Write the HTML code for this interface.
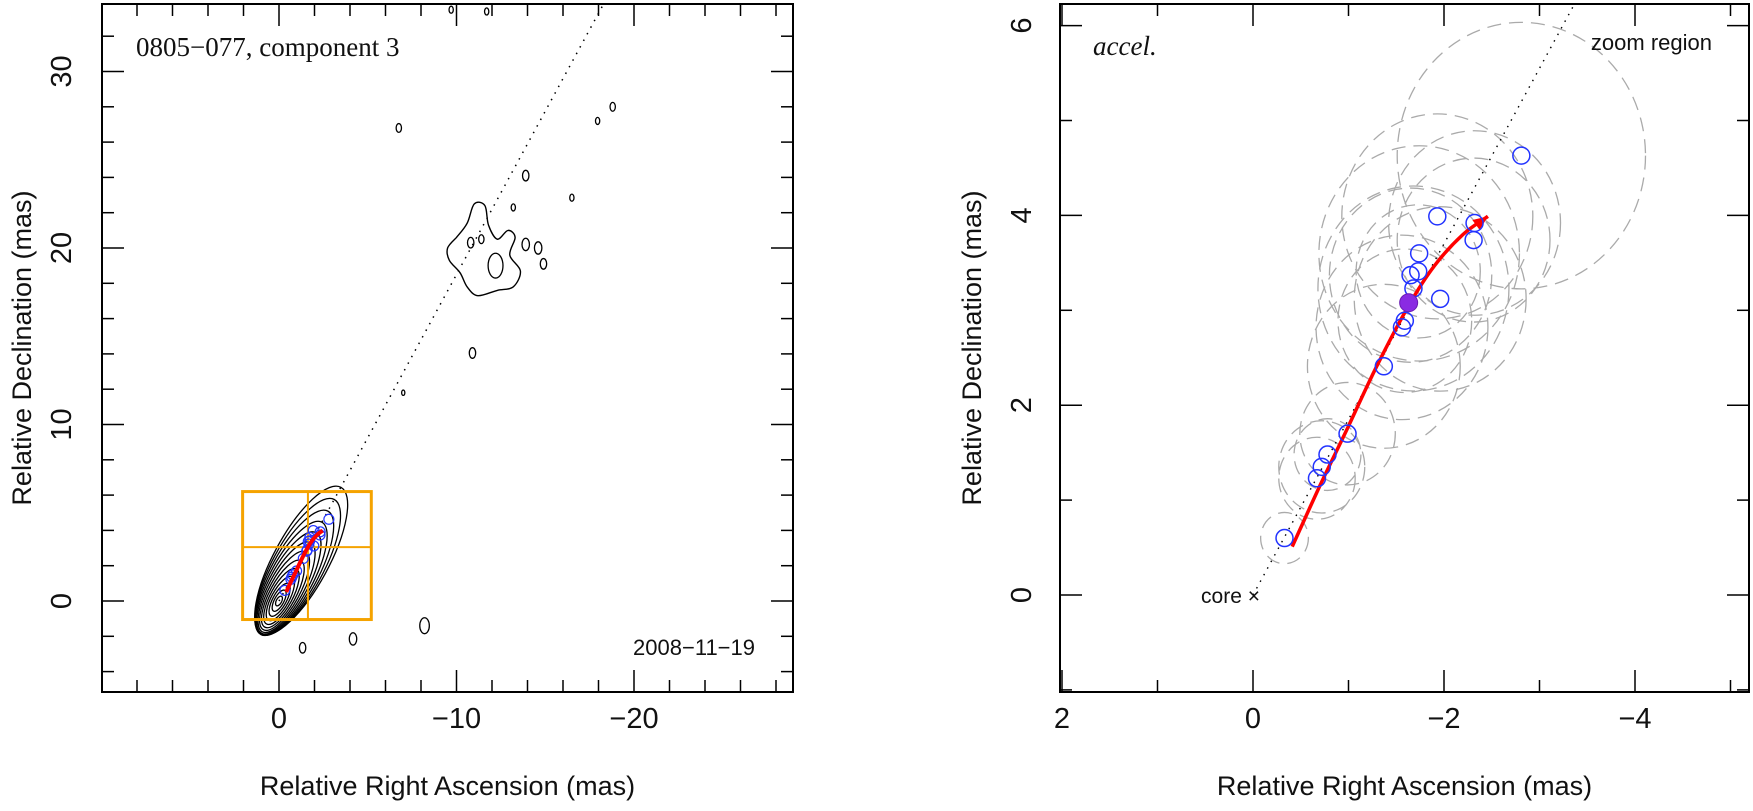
<!DOCTYPE html>
<html><head><meta charset="utf-8"><style>
html,body{margin:0;padding:0;background:#fff;}
svg{display:block;}
text{font-family:"Liberation Sans",sans-serif;fill:#111;}
</style></head><body>
<svg id="fig" width="1753" height="811" viewBox="0 0 1753 811" xmlns="http://www.w3.org/2000/svg">
<g id="left"></g>
<g id="right"></g>
</svg>
<script>
// ---- data ----
const compRA  = [-0.33,-0.67,-0.72,-0.78,-0.99,-1.37,-1.56,-1.59,-1.68,-1.65,-1.74,-1.73,-1.96,-1.93,-2.31,-2.32,-2.81];
const compDec = [0.60,1.23,1.35,1.48,1.70,2.41,2.82,2.89,3.23,3.37,3.60,3.41,3.12,3.99,3.74,3.92,4.63];
const compErr = [0.25,0.4,0.45,0.35,0.5,0.8,0.9,0.7,1.0,0.85,1.05,0.65,0.9,1.0,0.8,0.9,1.3];
const refRA = [-1.63], refDec = [3.08];
const fitRA  = [-0.41,-0.70,-1.00,-1.30,-1.63,-1.90,-2.20,-2.46];
const fitDec = [0.51,1.15,1.78,2.42,3.05,3.47,3.80,3.99];
const jetAngleSlope = 1.85;
const blobRA  = [-10.0,-10.6,-11.0,-11.6,-11.8,-12.3,-12.9,-13.3,-13.0,-13.6,-13.2,-12.3,-11.2,-10.6,-10.2,-9.6,-9.5];
const blobDec = [20.6,21.4,22.5,22.4,21.3,20.5,21.0,20.6,19.6,18.7,17.8,17.6,17.3,17.8,18.6,19.3,20.0];
const islandRA  = [-6.75,-18.8,-17.95,-13.9,-13.2,-16.5,-10.9,-7.0,-8.2,-4.17,-1.33,-9.7,-11.7,-10.8,-11.4,-13.9,-14.6,-14.9,-12.2];
const islandDec = [26.8,28.0,27.2,24.1,22.3,22.85,14.05,11.8,-1.4,-2.15,-2.65,33.5,33.4,20.3,20.5,20.2,20.0,19.1,19.0];
const islandSize = [0.25,0.25,0.2,0.3,0.2,0.2,0.3,0.15,0.45,0.35,0.3,0.2,0.2,0.3,0.25,0.35,0.35,0.3,0.7];
const leftXTicks = [0,-10,-20], leftYTicks = [0,10,20,30];
const rightXTicks = [2,0,-2,-4], rightYTicks = [0,2,4,6];
const zoomBox = [2.05,-5.2,-1.05,6.2];
const zoomCross = [-1.63,3.05];

const NS="http://www.w3.org/2000/svg";
function mk(parent,tag,attrs){const e=document.createElementNS(NS,tag);for(const k in attrs)e.setAttribute(k,attrs[k]);parent.appendChild(e);return e;}

function axes(g,P,xt,yt,minorX,minorY,name){
  const fr=mk(g,'rect',{x:P.x0,y:P.y0,width:P.x1-P.x0,height:P.y1-P.y0,fill:'none',stroke:'#000','stroke-width':2});
  
  
  const xlo=Math.min(P.vx(P.x0),P.vx(P.x1)),xhi=Math.max(P.vx(P.x0),P.vx(P.x1));
  for(let v=Math.ceil(xlo/minorX)*minorX;v<=xhi+1e-9;v+=minorX){
    const maj=xt.some(t=>Math.abs(t-v)<1e-6);const L=maj?22:12;const px=P.sx(v);
    mk(g,'line',{x1:px,x2:px,y1:P.y1,y2:P.y1-L,stroke:'#000','stroke-width':1.5});
    mk(g,'line',{x1:px,x2:px,y1:P.y0,y2:P.y0+L,stroke:'#000','stroke-width':1.5});
  }
  const ylo=P.vy(P.y1),yhi=P.vy(P.y0);
  for(let v=Math.ceil(ylo/minorY)*minorY;v<=yhi+1e-9;v+=minorY){
    const maj=yt.some(t=>Math.abs(t-v)<1e-6);const L=maj?22:12;const py=P.sy(v);
    mk(g,'line',{y1:py,y2:py,x1:P.x0,x2:P.x0+L,stroke:'#000','stroke-width':1.5});
    mk(g,'line',{y1:py,y2:py,x1:P.x1,x2:P.x1-L,stroke:'#000','stroke-width':1.5});
  }
  xt.forEach(v=>{const t=mk(g,'text',{x:P.sx(v),y:728,'text-anchor':'middle','font-size':29});
    t.textContent=v<0?'\u2212'+(-v):String(v);
    
    });
  yt.forEach(v=>{const cx=P.x0-P.ylab,cy=P.sy(v);const t=mk(g,'text',{x:cx,y:cy,'text-anchor':'middle','dominant-baseline':'central','font-size':29,transform:`rotate(-90 ${cx} ${cy})`});
    t.textContent=String(v);
    
    });
  const xl=mk(g,'text',{x:(P.x0+P.x1)/2,y:795,'text-anchor':'middle','font-size':27});
  xl.textContent='Relative Right Ascension (mas)';
  
  
  const yx=P.x0-P.ytit, yy=(P.y0+P.y1)/2;
  const yl=mk(g,'text',{x:yx,y:yy,'text-anchor':'middle','dominant-baseline':'central','font-size':27,transform:`rotate(-90 ${yx} ${yy})`});
  yl.textContent='Relative Declination (mas)';
  
  
}
function panel(x0,x1,y0,y1,ra0,sxk,dec0,syk,ylab,ytit){
  return {x0,x1,y0,y1,ylab,ytit,sx:v=>ra0-sxk*v,sy:v=>dec0-syk*v,vx:p=>(ra0-p)/sxk,vy:p=>(dec0-p)/syk};
}
function smoothPath(P,xs,ys){
  const p=xs.map((x,i)=>[P.sx(x),P.sy(ys[i])]);
  let d='M'+p[0][0].toFixed(1)+' '+p[0][1].toFixed(1);
  for(let i=0;i<p.length-1;i++){
    const p0=p[Math.max(0,i-1)],p1=p[i],p2=p[i+1],p3=p[Math.min(p.length-1,i+2)];
    const c1=[p1[0]+(p2[0]-p0[0])/6,p1[1]+(p2[1]-p0[1])/6],c2=[p2[0]-(p3[0]-p1[0])/6,p2[1]-(p3[1]-p1[1])/6];
    d+=` C${c1[0].toFixed(1)} ${c1[1].toFixed(1)} ${c2[0].toFixed(1)} ${c2[1].toFixed(1)} ${p2[0].toFixed(1)} ${p2[1].toFixed(1)}`;
  }
  return d;
}

// ---- left panel ----
const L=panel(102,793,4,692,279,17.75,601,17.65,40,80);
const gl=document.getElementById('left');
const clipL=mk(gl,'clipPath',{id:'cl'});mk(clipL,'rect',{x:L.x0,y:L.y0,width:L.x1-L.x0,height:L.y1-L.y0});
const cg=mk(gl,'g',{'clip-path':'url(#cl)'});
const jl=mk(cg,'line',{x1:L.sx(0),y1:L.sy(0),x2:L.sx(-40/jetAngleSlope),y2:L.sy(40),stroke:'#000','stroke-width':1.5,'stroke-dasharray':'1.5 6'});


const ang=-Math.atan2(jetAngleSlope*17.65,17.75)*180/Math.PI;
for(let i=0;i<13;i++){
  const f=i/12;
  const cx=-1.25*f*f, cy=2.3*f*f;
  const a=0.3+4.4*f, b=0.15+1.4*f;
  const X=L.sx(cx),Y=L.sy(cy);
  const e=mk(cg,'ellipse',{cx:X,cy:Y,rx:a*17.7,ry:b*17.7,fill:'none',stroke:'#000','stroke-width':1.3,transform:`rotate(${ang} ${X} ${Y})`});
  
  
}
const bp=mk(cg,'path',{d:smoothPath(L,blobRA.concat([blobRA[0]]),blobDec.concat([blobDec[0]]))+' Z',fill:'none',stroke:'#000','stroke-width':1.4,'stroke-linejoin':'round'});


islandRA.forEach((x,i)=>{const s=islandSize[i];
  const e=mk(cg,'ellipse',{cx:L.sx(x),cy:L.sy(islandDec[i]),rx:s*0.6*17.7,ry:s*17.7,fill:'none',stroke:'#000','stroke-width':1.3});
  
  });
const zb=mk(cg,'rect',{x:L.sx(zoomBox[0]),y:L.sy(zoomBox[3]),width:L.sx(zoomBox[1])-L.sx(zoomBox[0]),height:L.sy(zoomBox[2])-L.sy(zoomBox[3]),fill:'none',stroke:'#f5a300','stroke-width':3});


mk(cg,'line',{x1:L.sx(zoomCross[0]),x2:L.sx(zoomCross[0]),y1:L.sy(zoomBox[3]),y2:L.sy(zoomBox[2]),stroke:'#f5a300','stroke-width':2});
mk(cg,'line',{y1:L.sy(zoomCross[1]),y2:L.sy(zoomCross[1]),x1:L.sx(zoomBox[0]),x2:L.sx(zoomBox[1]),stroke:'#f5a300','stroke-width':2});
compRA.forEach((x,i)=>{const c=mk(cg,'circle',{cx:L.sx(x),cy:L.sy(compDec[i]),r:5,fill:'none',stroke:'#2233ff','stroke-width':1.2});
  
  });
const fl=mk(cg,'path',{d:smoothPath(L,fitRA,fitDec),fill:'none',stroke:'#ff0000','stroke-width':4});


axes(gl,L,leftXTicks,leftYTicks,2,2,'left');
let t=mk(gl,'text',{x:136,y:56,'font-size':27,style:'font-family:"Liberation Serif",serif'});
t.textContent='0805\u2212077, component 3';


t=mk(gl,'text',{x:755,y:655,'font-size':22,'text-anchor':'end',fill:'#333'});
t.textContent='2008\u221211\u221219';



// ---- right panel ----
const R=panel(1060,1749,4,692,1253,95.5,595,94.9,38,88);
const gr=document.getElementById('right');
const clipR=mk(gr,'clipPath',{id:'cr'});mk(clipR,'rect',{x:R.x0,y:R.y0,width:R.x1-R.x0,height:R.y1-R.y0});
const rg=mk(gr,'g',{'clip-path':'url(#cr)'});
compRA.forEach((x,i)=>{const r=compErr[i];
  const e=mk(rg,'ellipse',{cx:R.sx(x),cy:R.sy(compDec[i]),rx:r*95.5,ry:r*1.08*94.9,fill:'none',stroke:'#aaa','stroke-width':1.3,'stroke-dasharray':'14 8'});
  
  });
const jr=mk(rg,'line',{x1:R.sx(0),y1:R.sy(0),x2:R.sx(-7/jetAngleSlope),y2:R.sy(7),stroke:'#000','stroke-width':1.4,'stroke-dasharray':'1.5 6'});


const fr=mk(rg,'path',{d:smoothPath(R,fitRA,fitDec),fill:'none',stroke:'#ff0000','stroke-width':3.5});


{const n=fitRA.length,x2=R.sx(fitRA[n-1]),y2=R.sy(fitDec[n-1]),x1=R.sx(fitRA[n-2]),y1=R.sy(fitDec[n-2]);
 const a=Math.atan2(y2-y1,x2-x1),s=16;
 const ah=mk(rg,'polygon',{points:`${x2},${y2} ${x2-s*Math.cos(a-0.4)},${y2-s*Math.sin(a-0.4)} ${x2-s*Math.cos(a+0.4)},${y2-s*Math.sin(a+0.4)}`,fill:'#ff0000'});
 
 }
compRA.forEach((x,i)=>{const c=mk(rg,'circle',{cx:R.sx(x),cy:R.sy(compDec[i]),r:8.5,fill:'none',stroke:'#2233ff','stroke-width':1.5});
  
  });
refRA.forEach((x,i)=>{const c=mk(rg,'circle',{cx:R.sx(x),cy:R.sy(refDec[i]),r:9,fill:'#8a2be2',stroke:'#6a1bb2','stroke-width':1});
  
  });
axes(gr,R,rightXTicks,rightYTicks,1,1,'right');
t=mk(gr,'text',{x:1093,y:55,'font-size':27,style:'font-family:"Liberation Serif",serif;font-style:italic'});
t.textContent='accel.';


t=mk(gr,'text',{x:1712,y:50,'font-size':22,'text-anchor':'end',fill:'#333'});
t.textContent='zoom region';


t=mk(gr,'text',{x:1260,y:603,'font-size':21,'text-anchor':'end',fill:'#333'});
t.textContent='core \u00d7';


</script>
</body></html>
